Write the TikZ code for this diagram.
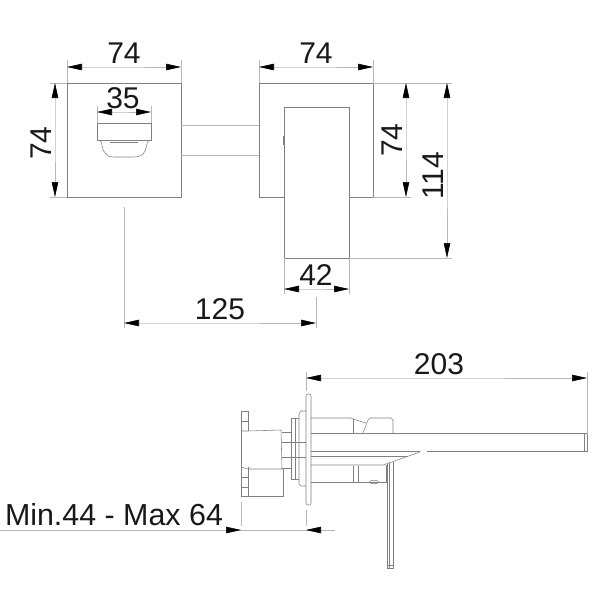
\documentclass[tikz,border=0pt]{standalone}
\usepackage{fontspec}
\setmainfont{Liberation Sans}
\usetikzlibrary{arrows.meta}
\tikzset{
  part/.style={draw=black!50,line width=0.55pt},
  dimline/.style={draw=black!28,line width=0.55pt},
  dimarrow/.tip={Stealth[length=15pt,width=6.5pt,inset=0pt,black]},
  dimtip/.style={dimline,dimarrow-dimarrow},
  dimtext/.style={anchor=south,inner sep=3pt,font=\fontsize{30}{30}\selectfont,text=black!90}
}
\begin{document}
\begin{tikzpicture}[x=1pt,y=-1pt]
\useasboundingbox (0,0) rectangle (600,600);
% front view, lever plate
\draw[part] (67,83) -- (181,83) -- (181,197) -- (67,197) -- cycle;
\draw[part] (97,123) -- (151,123);
\draw[part] (97,123) -- (97,140) -- (151,140) -- (151,123);
\draw[part,line width=1pt] (110,142.5) -- (138,142.5);
\draw[part] (100,140) .. controls (103,143) and (101,150) .. (106,154) .. controls (108,157) and (111,157) .. (114,157) -- (133,157) .. controls (138,157) and (143,156) .. (145,151) .. controls (147,147) and (146,143) .. (149,140);
\draw[dimline] (181,125) -- (259,125);
\draw[dimline] (181,155) -- (259,155);
% front view, spout
\draw[part] (284,197) -- (259,197) -- (259,83) -- (373,83) -- (373,197) -- (349,197);
\draw[part] (284,107) -- (349,107) -- (349,258) -- (284,258) -- cycle;
\draw[part] (283.5,136) -- (283.5,145);
\draw[part] (349.5,136) -- (349.5,145);
% front view, dimensions
\draw[dimline] (67,60) -- (67,83);
\draw[dimline] (181,60) -- (181,83);
\draw[dimtip] (67,67) -- (124,67) node[dimtext]{74} -- (181,67);
\draw[dimline] (259,60) -- (259,83);
\draw[dimline] (373,60) -- (373,83);
\draw[dimtip] (259,67) -- (316,67) node[dimtext]{74} -- (373,67);
\draw[dimline] (50,83) -- (67,83);
\draw[dimline] (50,197) -- (67,197);
\draw[dimtip] (55,83) -- (55,143) node[dimtext,rotate=90]{74} -- (55,197);
\draw[dimline] (97,106) -- (97,123);
\draw[dimline] (151,106) -- (151,123);
\draw[dimtip] (97,112) -- (123,112) node[dimtext]{35} -- (151,112);
\draw[dimline] (373,83) -- (452,83);
\draw[dimline] (373,197) -- (411,197);
\draw[dimline] (349,258) -- (452,258);
\draw[dimtip] (406,83) -- (406,140) node[dimtext,rotate=90]{74} -- (406,197);
\draw[dimtip] (447,83) -- (447,176) node[dimtext,rotate=90]{114} -- (447,258);
\draw[dimline] (284,258) -- (284,294);
\draw[dimline] (349,258) -- (349,294);
\draw[dimtip] (284,289) -- (316,289) node[dimtext]{42} -- (349,289);
\draw[dimline] (124,207) -- (124,328);
\draw[dimline] (316,297) -- (316,328);
\draw[dimtip] (124,323) -- (220,323) node[dimtext]{125} -- (316,323);
% side view, wall plate and collars
\draw[part,rounded corners=2pt] (306,394) rectangle (311,505);
\draw[part] (306,411) -- (301,411) -- (299,414) -- (299,484) -- (301,486) -- (306,486);
\draw[part] (299,418) -- (291,418) -- (291,479) -- (299,479);
\draw[part] (295,418) -- (295,479);
\draw[part] (282,432) -- (291,432);
\draw[part] (282,468) -- (291,468);
\draw[part] (282,442) -- (306,442);
\draw[part] (282,457) -- (306,457);
% side view, lever
\draw[part] (248,411) -- (241,411) -- (241,496) -- (283,496) -- (283,469);
\draw[part] (248,411) -- (248,431);
\draw[part] (241,431) -- (248,431) -- (281,430) -- (282,469) -- (248,469) -- (241,467);
\draw[part] (248,467) -- (248,496);
\draw[part] (241,421) -- (248,421);
\draw[part] (241,477) -- (248,477);
\draw[part] (241,487) -- (248,487);
% side view, spout and body
\draw[part] (311,433.5) -- (587,433.5) -- (587,451) -- (427,451);
\draw[part] (584,434) -- (584,451);
\draw[part,line width=1pt] (548,451) -- (577,451);
\draw[part,line width=1pt] (311,451) -- (420,451);
\draw[part] (311,456) -- (408,456);
\draw[part] (420,452) -- (383,465) -- (311,465);
\draw[part] (311,418) -- (351,418) -- (353,419) -- (366,423);
\draw[part] (353,419) -- (353,433);
\draw[part] (363,433) -- (368,420) -- (370,418) -- (391,418) -- (393,420) -- (393,433);
\draw[part] (311,482) -- (353,482) -- (353,466);
\draw[part] (358,466) -- (358,482) -- (386,482) -- (386,465);
\draw[part] (353,482) -- (358,482);
\draw[part] (374,482) ellipse (4.5pt and 1.8pt);
\draw[part] (387,464) -- (387,568) -- (393,568) -- (393,462);
\draw[part] (389,463) -- (389,568);
\draw[part] (387,565) -- (393,565);
% side view, dimensions
\draw[dimline] (306,372) -- (306,391);
\draw[dimline] (587,372) -- (587,434);
\draw[dimtip] (306,378) -- (439,378) node[dimtext]{203} -- (587,378);
\draw[dimline] (241,502) -- (241,526);
\draw[dimline] (306,510) -- (306,526);
\draw[dimline] (0,530) -- (335,530);
\draw[dimline,-dimarrow] (226,530) -- (241,530);
\draw[dimline,-dimarrow] (321,530) -- (306,530);
\node[dimtext,font=\fontsize{30.4}{30.4}\selectfont] (minmax) at (114,529) {Min.44 - Max 64};
\end{tikzpicture}
\end{document}
